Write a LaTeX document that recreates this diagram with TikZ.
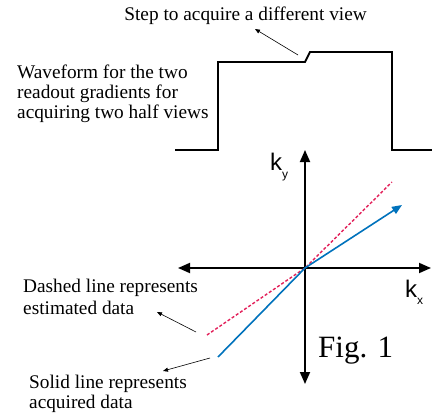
\documentclass[tikz,border=0pt]{standalone}
\usepackage{fontspec}
\setmainfont{Liberation Serif}
\newfontfamily\arialf{Liberation Sans}
\usetikzlibrary{arrows.meta}
\definecolor{kblue}{RGB}{0,114,188}
\definecolor{kred}{RGB}{226,32,90}
\begin{document}
\begin{tikzpicture}[x=1pt,y=-1pt,
  txt/.style={inner sep=0pt,anchor=base west,font=\fontsize{19.3}{20}\selectfont},
  klabel/.style={inner sep=0pt,anchor=base west,font=\arialf\fontsize{24}{24}\selectfont},
  axis/.style={line width=1.8pt,-{Triangle[width=10pt,length=12pt]}},
  wave/.style={line width=1.8pt},
  note/.style={line width=0.6pt,-{Triangle[width=4pt,length=5pt]}}]
\useasboundingbox (0,0) rectangle (432,415);
% waveform
\coordinate (w0) at (175,150);
\coordinate (w1) at (218,150);
\coordinate (w2) at (218,62);
\coordinate (w3) at (305,62);
\coordinate (w4) at (310,52);
\coordinate (w5) at (392,52);
\coordinate (w6) at (392,150);
\coordinate (w7) at (432,150);
\draw[wave] (w0) -- (w1) -- (w2) -- (w3) -- (w4) -- (w5) -- (w6) -- (w7);
% step annotation
\node[txt,anchor=base east] (steptxt) at (367,20) {Step to acquire a different view};
\coordinate (stepfrom) at (298,55);
\coordinate (stepto) at (255,29);
\draw[note] (stepfrom) -- (stepto);
% waveform text
\node[txt] (wf1) at (17,78) {Waveform for the two};
\node[txt] (wf2) at (17,98) {readout gradients for};
\node[txt] (wf3) at (17,118) {acquiring two half views};
% axes
\coordinate (O) at (305,268);
\coordinate (top) at (305,150);
\coordinate (bot) at (305,384);
\coordinate (lft) at (178,268);
\coordinate (rgt) at (431,268);
\draw[axis] (O) -- (top);
\draw[axis] (O) -- (bot);
\draw[axis] (O) -- (lft);
\draw[axis] (O) -- (rgt);
% data lines
\coordinate (b0) at (218,357);
\coordinate (b1) at (402,205);
\coordinate (r0) at (207,335);
\coordinate (r1) at (392,182);
\draw[kred,line width=1.4pt,dash pattern=on 3pt off 2pt] (r0) -- (O) -- (r1);
\draw[kblue,line width=1.6pt,-{Triangle[width=8pt,length=10pt]}] (b0) -- (O) -- (b1);
% labels
\node[klabel] (ky) at (270,170) {k\raisebox{-0.35em}{\fontsize{12}{12}\selectfont y}};
\node[klabel] (kx) at (405,297) {k\raisebox{-0.3em}{\fontsize{12}{12}\selectfont x}};
\node[inner sep=0pt,anchor=base west,font=\fontsize{31}{31}\selectfont] (fig) at (318,357) {Fig. 1};
% annotations
\node[txt] (d1) at (23,292) {Dashed line represents};
\node[txt] (d2) at (23,314) {estimated data};
\coordinate (dfrom) at (196,332);
\coordinate (dto) at (157,312);
\draw[note] (dfrom) -- (dto);
\node[txt] (s1) at (29,388) {Solid line represents};
\node[txt] (s2) at (29,408) {acquired data};
\coordinate (sfrom) at (210,358);
\coordinate (sto) at (163,371);
\draw[note] (sfrom) -- (sto);
\end{tikzpicture}
\end{document}
